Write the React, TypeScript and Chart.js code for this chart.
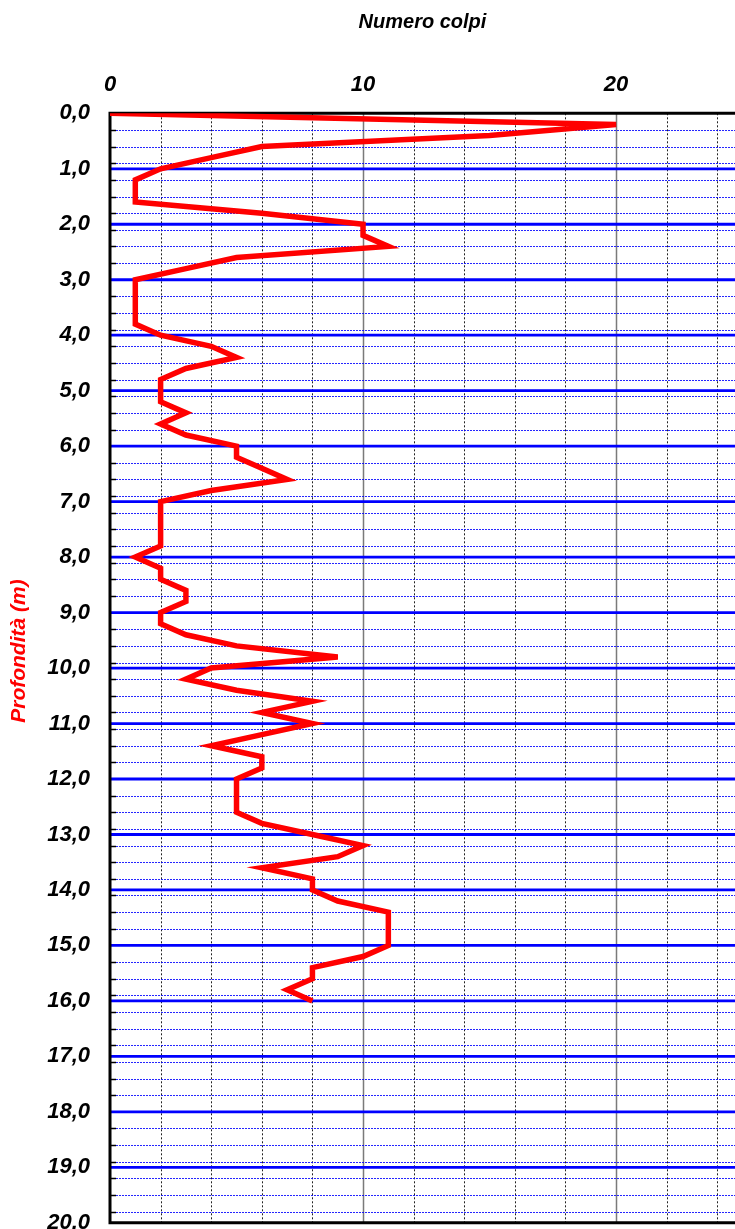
import React, { useEffect, useRef } from "react";
import { Chart, registerables } from "chart.js";

Chart.register(...registerables);

// ---- data (depth in m, number of blows) ----
const DEPTH_M = [
  0.0, 0.2, 0.4, 0.6, 0.8, 1.0, 1.2, 1.4, 1.6, 1.8,
  2.0, 2.2, 2.4, 2.6, 2.8, 3.0, 3.2, 3.4, 3.6, 3.8,
  4.0, 4.2, 4.4, 4.6, 4.8, 5.0, 5.2, 5.4, 5.6, 5.8,
  6.0, 6.2, 6.4, 6.6, 6.8, 7.0, 7.2, 7.4, 7.6, 7.8,
  8.0, 8.2, 8.4, 8.6, 8.8, 9.0, 9.2, 9.4, 9.6, 9.8,
  10.0, 10.2, 10.4, 10.6, 10.8, 11.0, 11.2, 11.4, 11.6, 11.8,
  12.0, 12.2, 12.4, 12.6, 12.8, 13.0, 13.2, 13.4, 13.6, 13.8,
  14.0, 14.2, 14.4, 14.6, 14.8, 15.0, 15.2, 15.4, 15.6, 15.8,
  16.0,
];
const BLOWS = [
  0, 20, 15, 6, 4, 2, 1, 1, 1, 6,
  10, 10, 11, 5, 3, 1, 1, 1, 1, 1,
  2, 4, 5, 3, 2, 2, 2, 3, 2, 3,
  5, 5, 6, 7, 4, 2, 2, 2, 2, 2,
  1, 2, 2, 3, 3, 2, 2, 3, 5, 9,
  4, 3, 5, 8, 6, 8, 6, 4, 6, 6,
  5, 5, 5, 5, 6, 8, 10, 9, 6, 8,
  8, 9, 11, 11, 11, 11, 10, 8, 8, 7,
  8,
];

// ---- axes / ticks ----
const X_GRID = [0, 2, 4, 6, 8, 10, 12, 14, 16, 18, 20, 22, 24];
const X_LABELED = [0, 10, 20];
const X_SOLID = [10, 20];
const X_MIN = 0;
const X_MAX = 24.7;
const Y_TICKS = [0, 1, 2, 3, 4, 5, 6, 7, 8, 9, 10, 11, 12, 13, 14, 15, 16, 17, 18, 19, 20];
const Y_MIN = 0;
const Y_MAX = 20;
const Y_MINOR_STEP = 0.3;
const X_TITLE = "Numero colpi";
const Y_TITLE = "Profondità (m)";

const FONT_FAMILY = "'Liberation Sans', Arial, Helvetica, sans-serif";

function minorValues(): number[] {
  const out: number[] = [];
  for (let k = 1; k * Y_MINOR_STEP < Y_MAX - 1e-9; k++) {
    const v = Math.round(k * Y_MINOR_STEP * 10) / 10;
    if (Math.abs(v - Math.round(v)) < 1e-6) continue;
    out.push(v);
  }
  return out;
}

const gridPlugin = {
  id: "customGrid",
  beforeDatasetsDraw(chart: any) {
    const { ctx, chartArea } = chart;
    const { left, right, top, bottom } = chartArea;
    const xs = chart.scales.x;
    const ys = chart.scales.y;
    ctx.save();

    // vertical grid
    for (const v of X_GRID) {
      if (v === X_MIN) continue;
      const px = Math.round(xs.getPixelForValue(v)) + 0.5;
      ctx.beginPath();
      if (X_SOLID.includes(v)) {
        ctx.setLineDash([]);
        ctx.strokeStyle = "#7a7a7a";
        ctx.lineWidth = 1.5;
      } else {
        ctx.setLineDash([2, 2]);
        ctx.strokeStyle = "#222222";
        ctx.lineWidth = 1;
      }
      ctx.moveTo(px, top);
      ctx.lineTo(px, bottom);
      ctx.stroke();
    }

    // minor horizontal dotted lines + small ticks
    const minors = minorValues();
    for (const v of minors) {
      const py = Math.round(ys.getPixelForValue(v)) + 0.5;
      ctx.beginPath();
      ctx.setLineDash([2, 1]);
      ctx.strokeStyle = "rgba(0,0,255,0.85)";
      ctx.lineWidth = 1;
      ctx.moveTo(left, py);
      ctx.lineTo(right, py);
      ctx.stroke();
      ctx.beginPath();
      ctx.setLineDash([]);
      ctx.strokeStyle = "#000000";
      ctx.lineWidth = 1.5;
      ctx.moveTo(left, py);
      ctx.lineTo(left + 6, py);
      ctx.stroke();
    }

    // major horizontal solid lines
    ctx.setLineDash([]);
    for (const v of Y_TICKS) {
      if (v === Y_MIN || v === Y_MAX) continue;
      const py = ys.getPixelForValue(v);
      ctx.beginPath();
      ctx.strokeStyle = "#0000ff";
      ctx.lineWidth = 2.8;
      ctx.moveTo(left, py);
      ctx.lineTo(right, py);
      ctx.stroke();
    }

    // borders
    ctx.strokeStyle = "#000000";
    ctx.lineWidth = 3;
    ctx.beginPath();
    ctx.moveTo(left - 1.5, top);
    ctx.lineTo(right, top);
    ctx.moveTo(left, top);
    ctx.lineTo(left, bottom + 1.5);
    ctx.moveTo(left - 1.5, bottom);
    ctx.lineTo(right, bottom);
    ctx.stroke();

    ctx.restore();
  },
  afterDraw(chart: any) {
    const { ctx, chartArea } = chart;
    const cy = (chartArea.top + chartArea.bottom) / 2 - 17;
    ctx.save();
    ctx.translate(19, cy);
    ctx.rotate(-Math.PI / 2);
    ctx.font = `italic bold 21px ${FONT_FAMILY}`;
    ctx.fillStyle = "#ff0000";
    ctx.textAlign = "center";
    ctx.textBaseline = "middle";
    ctx.fillText(Y_TITLE, 0, 0);
    ctx.restore();
  },
};

export default function App() {
  const canvasRef = useRef<HTMLCanvasElement | null>(null);

  useEffect(() => {
    document.body.style.margin = "0";
    const canvas = canvasRef.current;
    if (!canvas) return;
    const tickFont = { family: FONT_FAMILY, size: 22, weight: "bold" as const, style: "italic" as const };
    const chart = new Chart(canvas, {
      type: "line",
      data: {
        datasets: [
          {
            data: DEPTH_M.map((d, i) => ({ x: BLOWS[i], y: d })),
            borderColor: "#ff0000",
            backgroundColor: "#ff0000",
            borderWidth: 5.5,
            pointRadius: 0,
            tension: 0,
            fill: false,
            borderJoinStyle: "miter",
          },
        ],
      },
      options: {
        animation: false,
        responsive: false,
        maintainAspectRatio: false,
        layout: { padding: { left: 0, right: 0, top: 0, bottom: 0 } },
        plugins: {
          legend: { display: false },
          tooltip: { enabled: false },
          title: { display: false },
        },
        scales: {
          x: {
            type: "linear",
            position: "top",
            min: X_MIN,
            max: X_MAX,
            afterBuildTicks: (s: any) => {
              s.ticks = X_GRID.map((v) => ({ value: v }));
            },
            afterFit: (s: any) => {
              s.height = 113.3;
            },
            ticks: {
              autoSkip: false,
              maxRotation: 0,
              padding: 15.6,
              color: "#000000",
              font: tickFont,
              callback: (v: any) => (X_LABELED.includes(Number(v)) ? String(v) : ""),
            },
            grid: { display: false, drawTicks: false },
            border: { display: false },
            title: {
              display: true,
              text: X_TITLE,
              color: "#000000",
              font: { family: FONT_FAMILY, size: 20, weight: "bold", style: "italic" },
              padding: { top: 10.5, bottom: 0 },
            },
          },
          y: {
            type: "linear",
            reverse: true,
            min: Y_MIN,
            max: Y_MAX,
            afterBuildTicks: (s: any) => {
              s.ticks = Y_TICKS.map((v) => ({ value: v }));
            },
            afterFit: (s: any) => {
              s.width = 110;
            },
            ticks: {
              autoSkip: false,
              padding: 20,
              color: "#000000",
              font: tickFont,
              callback: (v: any) => Number(v).toFixed(1).replace(".", ","),
            },
            grid: { display: false, drawTicks: false },
            border: { display: false },
            title: { display: false },
          },
        },
      },
      plugins: [gridPlugin],
    } as any);
    return () => chart.destroy();
  }, []);

  return (
    <div style={{ width: 735, height: 1229, overflow: "hidden", position: "relative" }}>
      <canvas ref={canvasRef} width={735} height={1256} style={{ display: "block", width: 735, height: 1256 }} />
    </div>
  );
}
